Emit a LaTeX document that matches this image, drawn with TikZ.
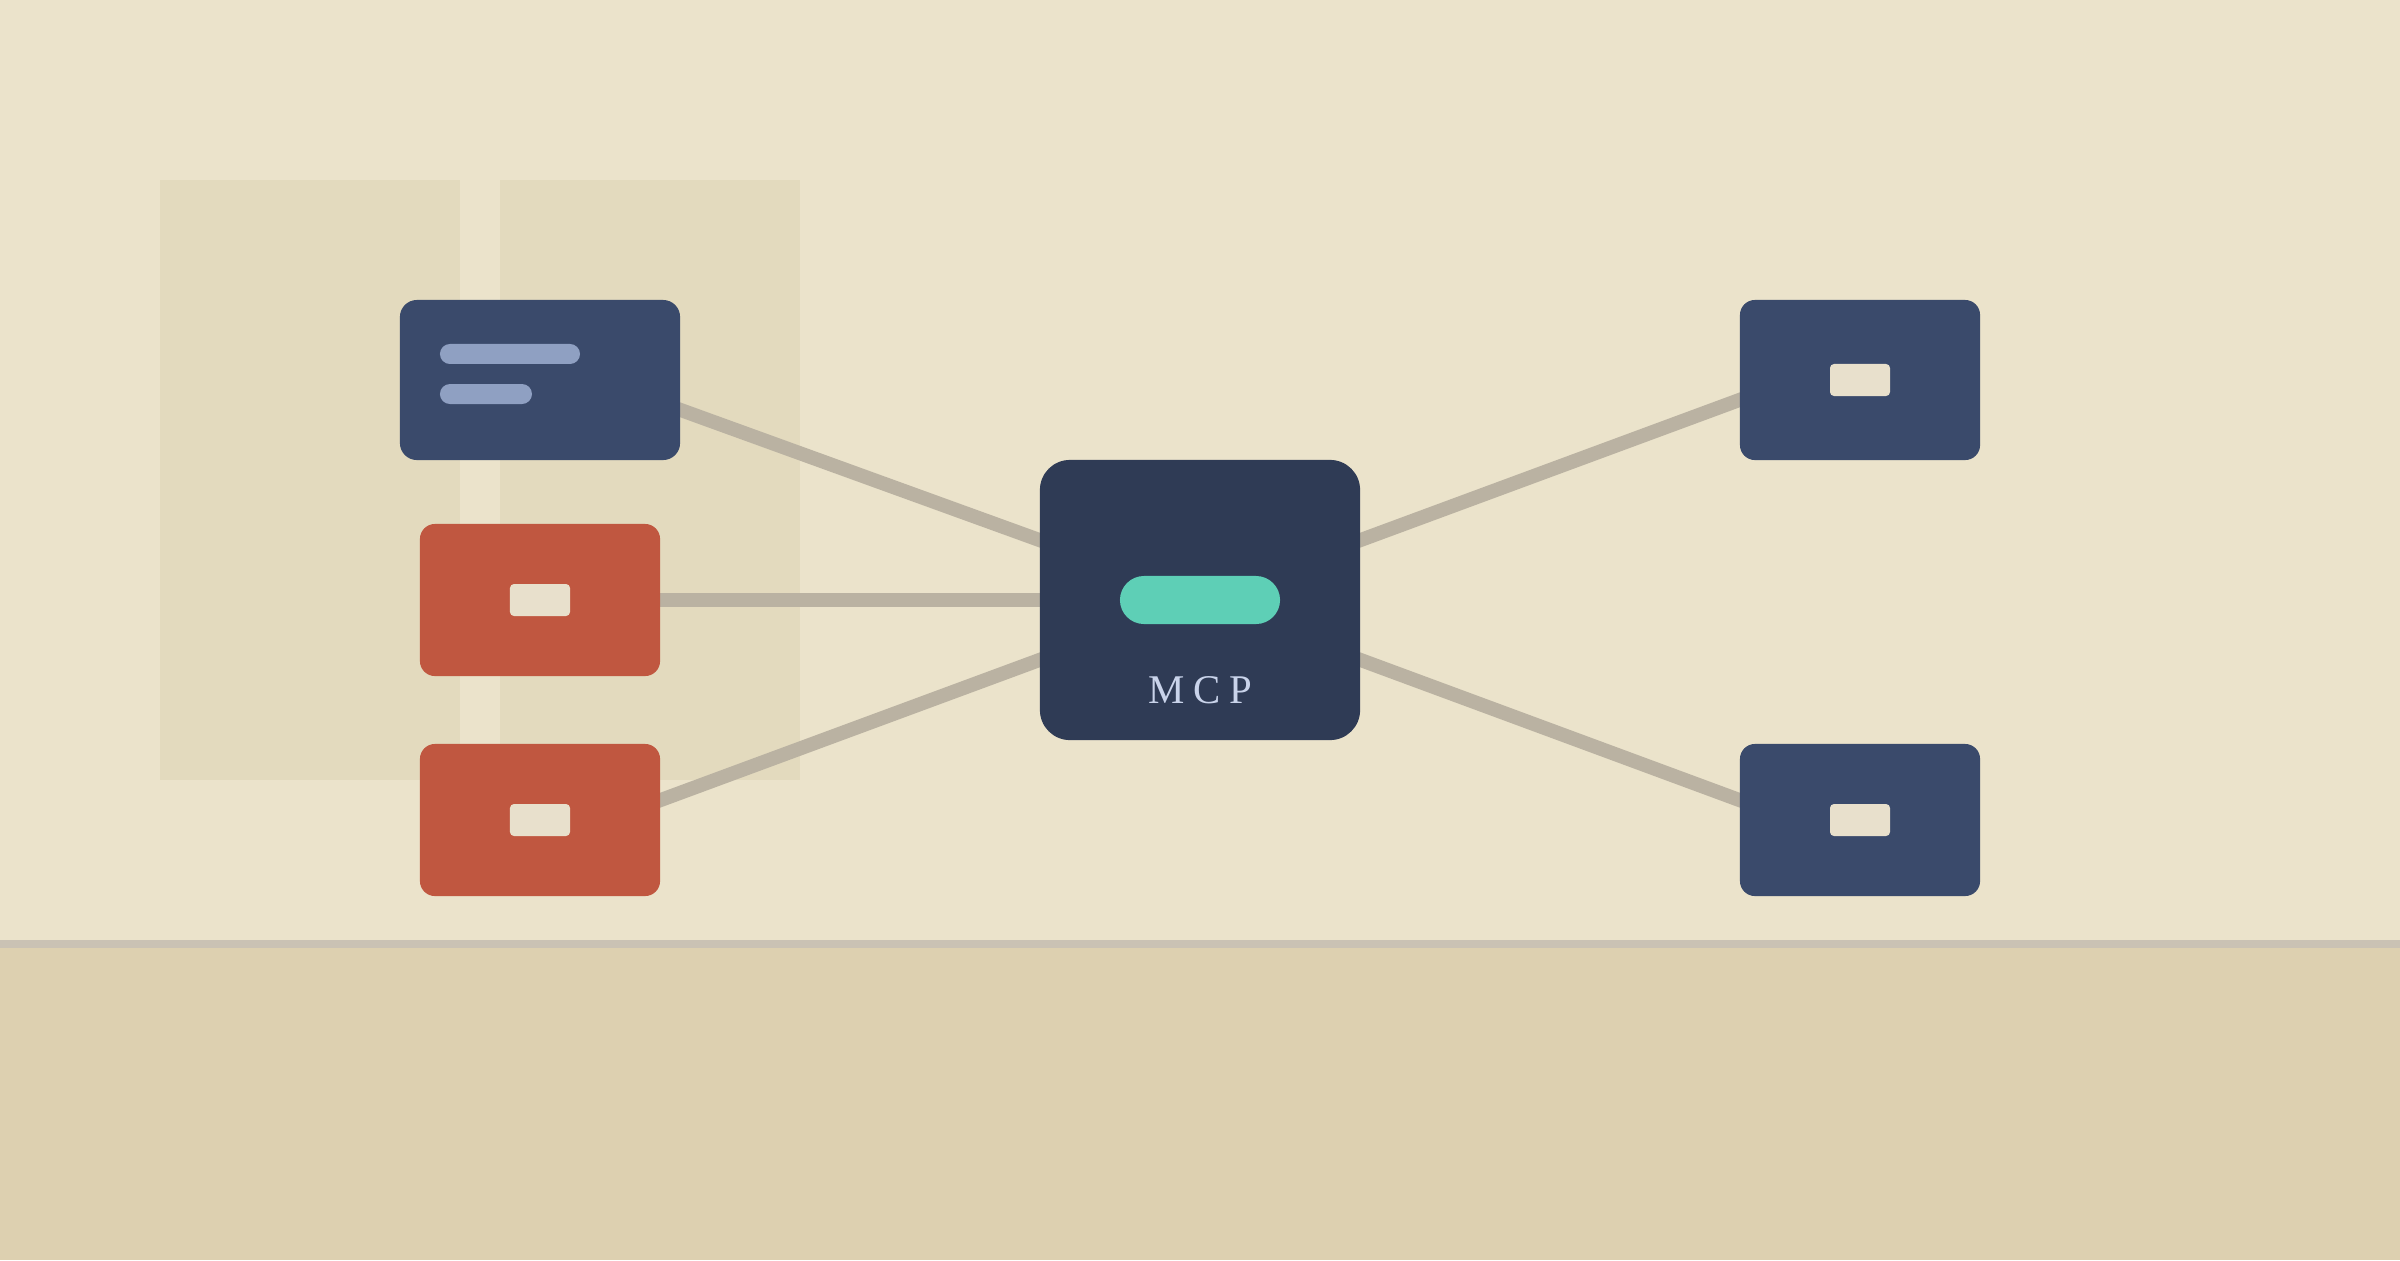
\documentclass[tikz,border=0pt]{standalone}
\usepackage{fontspec}
\setmainfont{Liberation Serif}
\usetikzlibrary{positioning, calc}

\definecolor{wall}{HTML}{EBE3CB}
\definecolor{panel}{HTML}{E3DABE}
\definecolor{floor}{HTML}{DDD0B0}
\definecolor{floorline}{HTML}{CAC2B4}
\definecolor{wirecol}{HTML}{BAB2A2}
\definecolor{navy}{HTML}{3A4A6B}
\definecolor{mcpcol}{HTML}{2F3B55}
\definecolor{brick}{HTML}{C05740}
\definecolor{barcol}{HTML}{8FA0C2}
\definecolor{chipcol}{HTML}{E8E0CC}
\definecolor{teal}{HTML}{5ECFB6}
\definecolor{tagcol}{HTML}{C9D3EA}

\pgfdeclarelayer{backdrop}
\pgfdeclarelayer{wires}
\pgfsetlayers{backdrop,wires,main}

\begin{document}
\begin{tikzpicture}[x=0.01cm, y=-0.01cm,
    box/.style={rectangle, inner sep=0pt, rounded corners=0.15cm, minimum width=2.4cm, minimum height=1.52cm},
    bluebox/.style={box, fill=navy},
    redbox/.style={box, fill=brick},
    chip/.style={rectangle, fill=chipcol, inner sep=0pt, rounded corners=0.04cm, minimum width=0.6cm, minimum height=0.32cm},
    bar/.style={rectangle, fill=barcol, inner sep=0pt, rounded corners=0.1cm, minimum height=0.2cm},
    pill/.style={rectangle, fill=teal, inner sep=0pt, rounded corners=0.24cm, minimum width=1.6cm, minimum height=0.48cm},
    tagtext/.style={text=tagcol, inner sep=0pt, font=\fontsize{11.6}{14}\selectfont},
    wire/.style={draw=wirecol, line width=0.14cm, shorten <=-0.2cm, shorten >=-0.2cm}]

    \begin{pgfonlayer}{backdrop}
    \fill[wall] (0,0) rectangle (2400,1260);
    \fill[panel] (160,180) rectangle (460,780);
    \fill[panel] (500,180) rectangle (800,780);
    \fill[floor] (0,944) rectangle (2400,1260);
    \fill[floorline] (0,940) rectangle (2400,948);
    \end{pgfonlayer}

    \node[box, fill=mcpcol, rounded corners=0.3cm, minimum width=3.2cm, minimum height=2.8cm] (mcp) at (1200,600) {};
    \node[bluebox, rounded corners=0.17cm, minimum width=2.8cm, minimum height=1.6cm] (docs) at (540,380) {};
    \node[redbox] (toolA) at (540,600) {};
    \node[redbox] (toolB) at (540,820) {};
    \node[bluebox, minimum height=1.6cm] (svcA) at (1860,380) {};
    \node[bluebox] (svcB) at (1860,820) {};

    \node[bar, minimum width=1.4cm, anchor=north west] (line1) at ([xshift=0.4cm, yshift=-0.44cm]docs.north west) {};
    \node[bar, minimum width=0.92cm, anchor=north west] (line2) at ([xshift=0.4cm, yshift=-0.84cm]docs.north west) {};
    \node[chip] (chipA) at (toolA) {};
    \node[chip] (chipB) at (toolB) {};
    \node[chip] (chipC) at (svcA) {};
    \node[chip] (chipD) at (svcB) {};
    \node[pill] (led) at (mcp) {};
    \node[tagtext, anchor=base] (name) at ([yshift=0.37cm]mcp.south) {M\hspace{2.5pt}C\hspace{2.5pt}P};

    \begin{pgfonlayer}{wires}
    \draw[wire] ([yshift=-0.3cm]docs.east) -- ([yshift=0.6cm]mcp.west);
    \draw[wire] (toolA.east) -- (mcp.west);
    \draw[wire] ([yshift=0.2cm]toolB.east) -- ([yshift=-0.6cm]mcp.west);
    \draw[wire] ([yshift=0.6cm]mcp.east) -- ([yshift=-0.2cm]svcA.west);
    \draw[wire] ([yshift=-0.6cm]mcp.east) -- ([yshift=0.2cm]svcB.west);
    \end{pgfonlayer}
\end{tikzpicture}
\end{document}
